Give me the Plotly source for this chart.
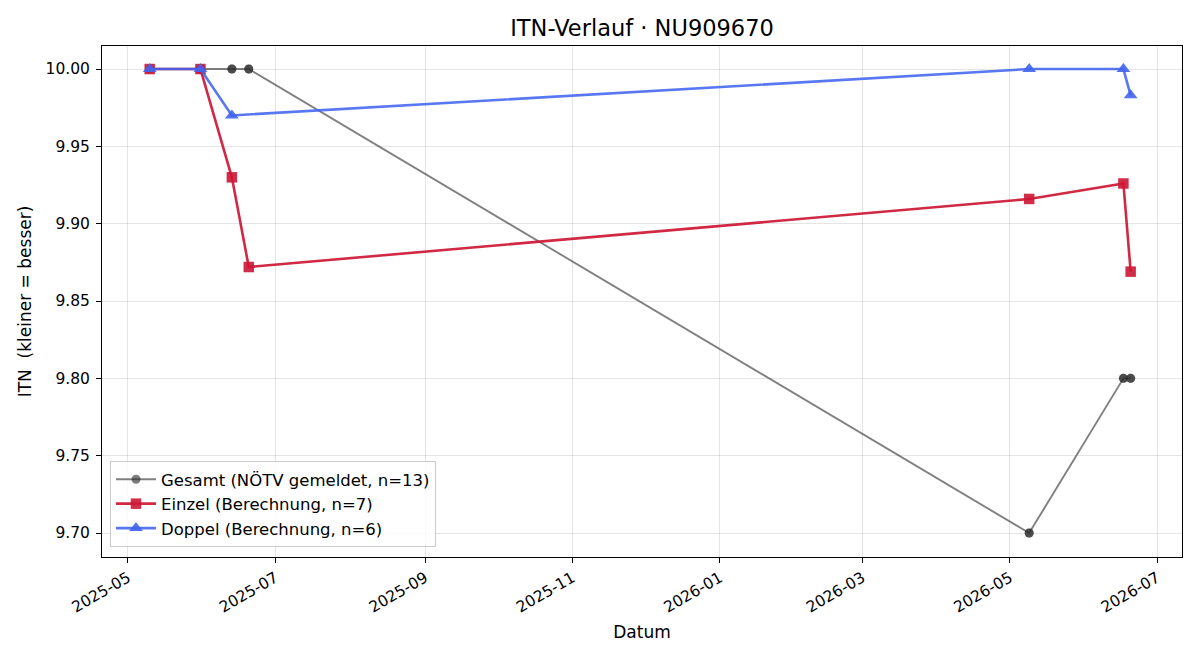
import plotly.graph_objects as go

# --- data ---
gesamt_dates = ["2025-05-10", "2025-05-31", "2025-05-31", "2025-06-13", "2025-06-13",
                "2025-06-20", "2025-06-20", "2026-05-09", "2026-05-09",
                "2026-06-17", "2026-06-17", "2026-06-20", "2026-06-20"]
gesamt_vals = [10.00, 10.00, 10.00, 10.00, 10.00, 10.00, 10.00, 9.70, 9.70, 9.80, 9.80, 9.80, 9.80]

einzel_dates = ["2025-05-10", "2025-05-31", "2025-06-13", "2025-06-20",
                "2026-05-09", "2026-06-17", "2026-06-20"]
einzel_vals = [10.00, 10.00, 9.930, 9.872, 9.916, 9.926, 9.869]

doppel_dates = ["2025-05-10", "2025-05-31", "2025-06-13",
                "2026-05-09", "2026-06-17", "2026-06-20"]
doppel_vals = [10.00, 10.00, 9.970, 10.00, 10.00, 9.983]

y_ticks = [9.70, 9.75, 9.80, 9.85, 9.90, 9.95, 10.00]
x_ticks = ["2025-05-01", "2025-07-01", "2025-09-01", "2025-11-01",
           "2026-01-01", "2026-03-01", "2026-05-01", "2026-07-01"]
x_tick_labels = ["2025-05", "2025-07", "2025-09", "2025-11",
                 "2026-01", "2026-03", "2026-05", "2026-07"]

fig = go.Figure()
fig.add_trace(go.Scatter(
    x=gesamt_dates, y=gesamt_vals, mode="lines+markers",
    name="Gesamt (NÖTV gemeldet, n=13)",
    line=dict(color="rgba(60,60,60,0.65)", width=1.9),
    marker=dict(symbol="circle", size=9, color="rgba(45,45,45,0.62)",
                line=dict(width=0)),
))
fig.add_trace(go.Scatter(
    x=einzel_dates, y=einzel_vals, mode="lines+markers",
    name="Einzel (Berechnung, n=7)",
    line=dict(color="rgba(205,22,52,0.92)", width=2.6),
    marker=dict(symbol="square", size=10.5, color="rgba(205,22,52,0.9)",
                line=dict(width=0)),
))
fig.add_trace(go.Scatter(
    x=doppel_dates, y=doppel_vals, mode="lines+markers",
    name="Doppel (Berechnung, n=6)",
    line=dict(color="rgba(65,100,240,0.88)", width=2.6),
    marker=dict(symbol="triangle-up", size=12, color="rgba(65,100,240,0.9)",
                line=dict(width=0)),
))

axis_common = dict(
    showline=True, linecolor="black", linewidth=1, mirror=True,
    ticks="outside", ticklen=5, tickcolor="black", tickwidth=1,
    showgrid=True, gridcolor="rgba(0,0,0,0.1)", gridwidth=1,
    zeroline=False,
    tickfont=dict(family="DejaVu Sans", size=15.5, color="black"),
)

fig.update_layout(
    width=1200, height=660,
    margin=dict(l=102, r=18, t=46, b=103),
    paper_bgcolor="white", plot_bgcolor="white",
    title=dict(text="ITN-Verlauf · NU909670", x=0.5, xref="paper", xanchor="center",
               y=0.957, yanchor="middle",
               font=dict(family="DejaVu Sans", size=22.5, color="black")),
    font=dict(family="DejaVu Sans", color="black"),
    xaxis=dict(
        axis_common,
        type="date",
        range=["2025-04-20 06:00", "2026-07-11 06:00"],
        tickmode="array", tickvals=x_ticks, ticktext=x_tick_labels,
        tickangle=-30,
        title=dict(text="Datum", font=dict(size=17, family="DejaVu Sans"), standoff=10),
    ),
    yaxis=dict(
        axis_common,
        range=[9.6845, 10.0149],
        tickmode="array", tickvals=y_ticks,
        ticktext=[f"{v:.2f}" for v in y_ticks],
        ticklabelstandoff=3,
        title=dict(text="ITN  (kleiner = besser)", font=dict(size=17, family="DejaVu Sans"), standoff=9),
    ),
    legend=dict(
        x=0.0074, y=0.0196, xanchor="left", yanchor="bottom",
        bgcolor="rgba(255,255,255,0.8)", bordercolor="rgba(0,0,0,0.2)", borderwidth=1,
        font=dict(family="DejaVu Sans", size=16.5, color="black"),
        itemwidth=40, tracegroupgap=0,
    ),
    showlegend=True,
)

fig.write_html("out.html")
